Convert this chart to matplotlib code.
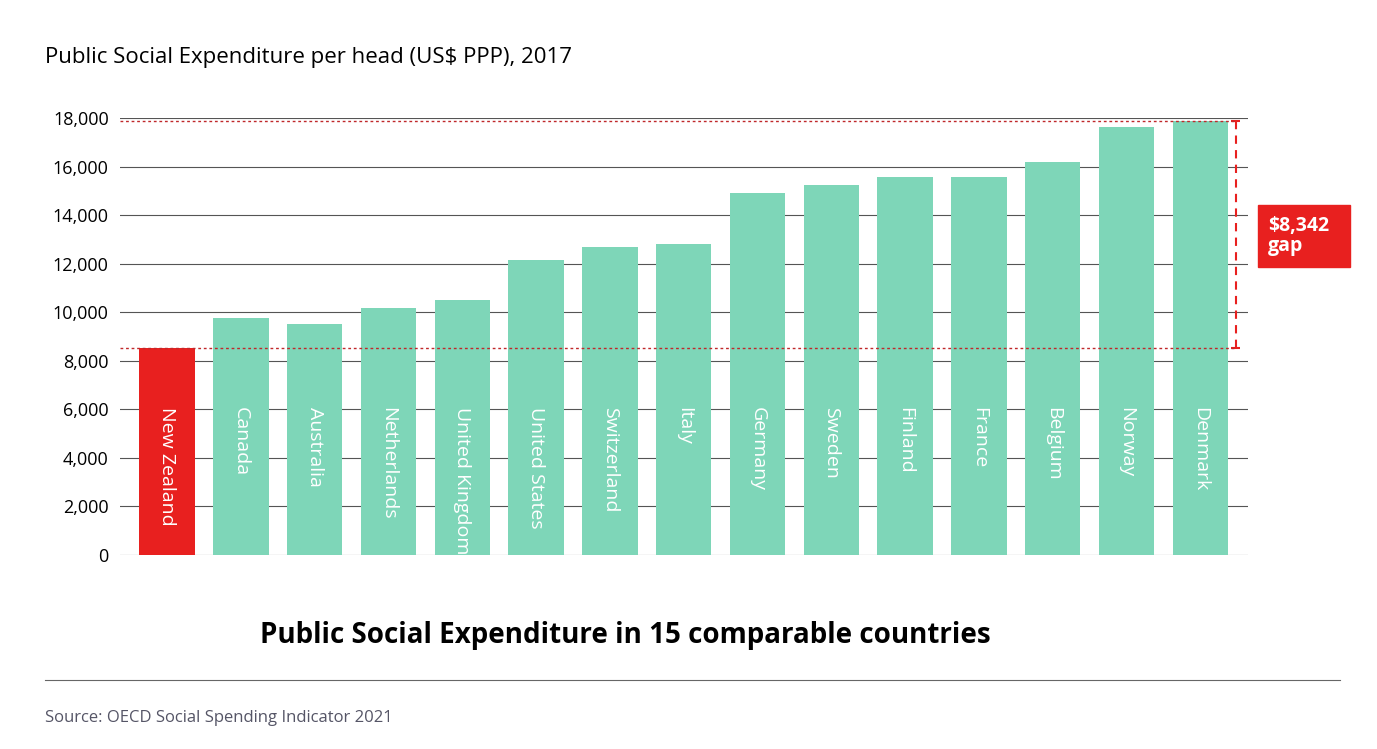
import matplotlib.pyplot as plt
from matplotlib.patches import Rectangle

countries = ['New Zealand', 'Canada', 'Australia', 'Netherlands', 'United Kingdom',
             'United States', 'Switzerland', 'Italy', 'Germany', 'Sweden',
             'Finland', 'France', 'Belgium', 'Norway', 'Denmark']
spend = [8520, 9760, 9520, 10180, 10510, 12160, 12700, 12830, 14940, 15270,
         15600, 15600, 16180, 17630, 17870]
yticks = list(range(0, 18001, 2000))
gap_label = '$8,342\ngap'

plt.rcParams['font.family'] = ['Open Sans', 'DejaVu Sans']
plt.rcParams['hatch.color'] = 'white'
plt.rcParams['hatch.linewidth'] = 0.6

fig = plt.figure(figsize=(13.77, 7.49), dpi=100)
ax = fig.add_axes([0.087, 0.259, 0.819, 0.583])

x = list(range(len(countries)))
colors = ['#e8201f'] + ['#7ed6b8'] * (len(countries) - 1)
bars = ax.bar(x, spend, width=0.75, color=colors, zorder=2)
for b in bars[1:]:
    b.set_hatch('\\\\\\\\')
    b.set_edgecolor('#7ed6b8')
    b.set_linewidth(0)

for xi, name in zip(x, countries):
    ax.text(xi, 6100, name, rotation=-90, ha='center', va='top', color='white',
            fontsize=14, zorder=3)

ax.set_xlim(-0.64, 14.64)
ax.set_ylim(0, 18000)
ax.set_yticks(yticks)
ax.set_yticklabels([f'{v:,}' for v in yticks], fontsize=13)
ax.set_xticks([])
ax.grid(axis='y', color='#555555', linewidth=0.8, zorder=0)
ax.tick_params(axis='y', length=0, pad=8)
for s in ax.spines.values():
    s.set_visible(False)

# gap annotation
lo, hi = spend[0], spend[-1]
ax.hlines([lo, hi], -0.64, 14.48, colors='#c0282a', linestyles=(0, (2, 2)), linewidth=1, zorder=3)
ax.vlines(14.48, lo, hi, colors='#e8201f', linestyles=(0, (4, 3)), linewidth=1.5, zorder=3)
ax.hlines([lo, hi], 14.42, 14.54, colors='#e8201f', linewidth=1.5, clip_on=False)

fig.patches.append(Rectangle((1258 / 1377, 1 - 267 / 749), 92 / 1377, 62 / 749,
                             transform=fig.transFigure, color='#e8201f'))
fig.text(1268 / 1377, 1 - 236 / 749, gap_label, ha='left', va='center', color='white',
         fontsize=14, fontweight='bold', linespacing=1.0)

fig.text(45 / 1377, 1 - 58 / 749, 'Public Social Expenditure per head (US$ PPP), 2017',
         fontsize=16, va='center')
fig.text(625 / 1377, 1 - 635 / 749, 'Public Social Expenditure in 15 comparable countries',
         fontsize=20, fontweight='bold', ha='center', va='center')
fig.add_artist(plt.Line2D([45 / 1377, 1340 / 1377], [1 - 680 / 749] * 2, color='#666666', linewidth=0.8))
fig.text(45 / 1377, 1 - 718 / 749, 'Source: OECD Social Spending Indicator 2021',
         fontsize=12, color='#555566', va='center')

plt.savefig('out.png', dpi=100)
